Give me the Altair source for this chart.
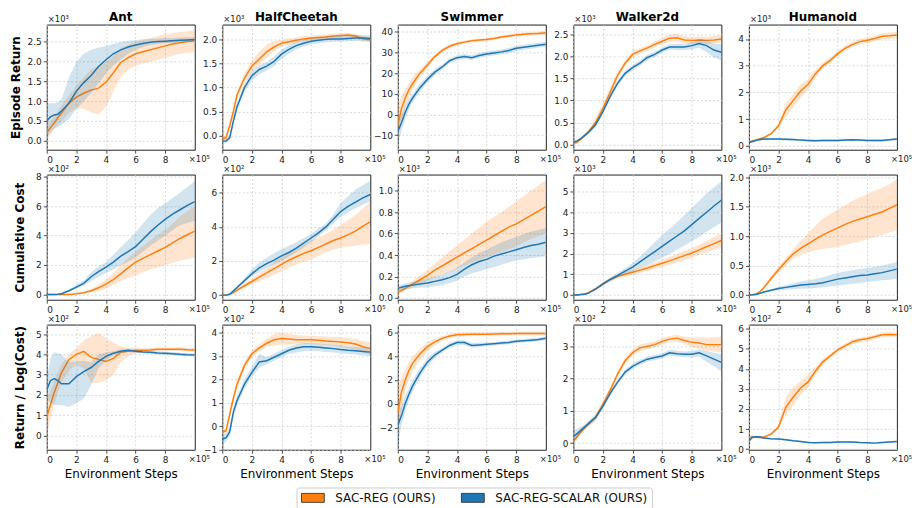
import altair as alt
import pandas as pd

# ---------------- data (x in units of 1e5 environment steps) ----------------
X = [0, 0.25, 0.5, 0.75, 1, 1.5, 2, 2.5, 3, 3.5, 4, 4.5, 5, 5.5, 6, 6.5, 7, 7.5, 8, 8.5, 9, 9.5, 10]

SERIES = ["SAC-REG (OURS)", "SAC-REG-SCALAR (OURS)"]
COLORS = ["#ff7f0e", "#1f77b4"]
ENVS = ["Ant", "HalfCheetah", "Swimmer", "Walker2d", "Humanoid"]
ROWS = ["Episode Return", "Cumulative Cost", "Return / Log(Cost)"]

# ---- Episode Return ----
ant_ret_reg = [0.2, 0.33, 0.45, 0.58, 0.7, 0.95, 1.1, 1.2, 1.28, 1.33, 1.48, 1.72, 1.98, 2.1, 2.2, 2.25, 2.3, 2.35, 2.4, 2.45, 2.48, 2.51, 2.53]
ant_ret_reg_lo = [0.0, 0.15, 0.3, 0.4, 0.5, 0.7, 0.82, 0.8, 0.72, 0.66, 0.85, 1.25, 1.6, 1.8, 1.9, 1.95, 2.0, 2.05, 2.1, 2.15, 2.2, 2.22, 2.25]
ant_ret_reg_hi = [0.4, 0.5, 0.6, 0.75, 0.9, 1.15, 1.4, 1.6, 1.8, 1.9, 2.0, 2.15, 2.35, 2.42, 2.5, 2.55, 2.6, 2.65, 2.7, 2.72, 2.75, 2.77, 2.8]
ant_ret_sca = [0.5, 0.6, 0.65, 0.67, 0.75, 0.95, 1.25, 1.47, 1.65, 1.88, 2.05, 2.2, 2.3, 2.37, 2.42, 2.46, 2.49, 2.51, 2.52, 2.53, 2.54, 2.55, 2.56]
ant_ret_sca_lo = [0.1, 0.2, 0.3, 0.35, 0.4, 0.55, 0.8, 1.0, 1.2, 1.45, 1.7, 1.9, 2.05, 2.2, 2.3, 2.37, 2.42, 2.45, 2.47, 2.48, 2.49, 2.5, 2.5]
ant_ret_sca_hi = [0.95, 0.95, 0.95, 0.97, 1.05, 1.6, 2.0, 2.2, 2.3, 2.36, 2.4, 2.45, 2.5, 2.53, 2.55, 2.57, 2.58, 2.59, 2.6, 2.6, 2.61, 2.62, 2.62]

hc_ret_reg = [-0.07, -0.05, 0.2, 0.5, 0.85, 1.2, 1.45, 1.6, 1.75, 1.85, 1.93, 1.96, 1.99, 2.02, 2.04, 2.05, 2.06, 2.08, 2.09, 2.1, 2.08, 2.02, 2.0]
hc_ret_reg_lo = [-0.12, -0.1, 0.12, 0.42, 0.77, 1.1, 1.35, 1.48, 1.62, 1.76, 1.86, 1.9, 1.94, 1.97, 1.99, 2.0, 2.01, 2.03, 2.04, 2.05, 2.03, 1.96, 1.94]
hc_ret_reg_hi = [-0.02, 0.0, 0.28, 0.58, 0.93, 1.3, 1.57, 1.75, 1.9, 1.97, 2.0, 2.03, 2.05, 2.08, 2.09, 2.1, 2.11, 2.13, 2.14, 2.15, 2.13, 2.08, 2.06]
hc_ret_sca = [-0.12, -0.12, -0.05, 0.3, 0.6, 1.0, 1.25, 1.38, 1.45, 1.55, 1.7, 1.8, 1.88, 1.93, 1.97, 1.99, 2.01, 2.02, 2.02, 2.03, 2.04, 2.04, 2.03]
hc_ret_sca_lo = [-0.16, -0.16, -0.1, 0.23, 0.52, 0.92, 1.15, 1.28, 1.36, 1.45, 1.6, 1.71, 1.8, 1.86, 1.9, 1.93, 1.95, 1.96, 1.96, 1.97, 1.98, 1.98, 1.97]
hc_ret_sca_hi = [-0.08, -0.08, 0.0, 0.37, 0.68, 1.08, 1.35, 1.47, 1.54, 1.65, 1.8, 1.89, 1.96, 2.0, 2.04, 2.05, 2.07, 2.08, 2.08, 2.09, 2.1, 2.1, 2.09]

sw_ret_reg = [-5, 3, 8, 12, 15, 20, 24, 28, 31, 33, 34.2, 35, 35.7, 36, 36.3, 36.8, 37.5, 38, 38.5, 38.8, 39, 39.2, 39.5]
sw_ret_reg_lo = [-12, -4, 3, 8, 12, 18, 22.5, 27, 30, 32, 33.4, 34.2, 35, 35.3, 35.6, 36, 36.8, 37.2, 37.7, 38, 38.2, 38.3, 38.5]
sw_ret_reg_hi = [4, 9, 12, 15, 18, 22, 25.5, 29, 32, 34, 35, 35.8, 36.4, 36.7, 37, 37.6, 38.2, 38.8, 39.3, 39.6, 39.8, 40.1, 40.5]
sw_ret_sca = [-8, -4, 1, 5, 8, 13, 17, 20.5, 23, 26, 27.5, 28, 27.5, 28.5, 29.3, 29.8, 30.3, 31, 32, 32.5, 33, 33.5, 34]
sw_ret_sca_lo = [-14, -8, -2, 2.5, 6, 11, 15.5, 19, 21.8, 24.8, 26.3, 26.8, 26.4, 27.3, 28.1, 28.6, 29.1, 29.8, 30.8, 31.3, 31.8, 32.3, 32.8]
sw_ret_sca_hi = [-3, 0, 4, 7.5, 10, 15, 18.5, 22, 24.2, 27.2, 28.7, 29.3, 28.7, 29.7, 30.5, 31, 31.5, 32.2, 33.2, 33.7, 34.2, 34.7, 35.2]

wk_ret_reg = [0.02, 0.05, 0.12, 0.2, 0.28, 0.5, 0.82, 1.2, 1.58, 1.85, 2.05, 2.13, 2.2, 2.28, 2.35, 2.42, 2.43, 2.38, 2.37, 2.38, 2.37, 2.38, 2.4]
wk_ret_reg_lo = [0.0, 0.03, 0.09, 0.16, 0.24, 0.4, 0.7, 1.1, 1.5, 1.78, 1.98, 2.07, 2.14, 2.21, 2.28, 2.34, 2.34, 2.3, 2.29, 2.3, 2.29, 2.3, 2.32]
wk_ret_reg_hi = [0.04, 0.07, 0.15, 0.24, 0.32, 0.6, 0.94, 1.3, 1.66, 1.92, 2.12, 2.19, 2.26, 2.35, 2.42, 2.5, 2.52, 2.46, 2.45, 2.46, 2.45, 2.47, 2.5]
wk_ret_sca = [0.05, 0.08, 0.13, 0.2, 0.27, 0.45, 0.75, 1.1, 1.4, 1.62, 1.75, 1.85, 1.98, 2.05, 2.15, 2.22, 2.22, 2.22, 2.25, 2.3, 2.25, 2.15, 2.1]
wk_ret_sca_lo = [0.03, 0.06, 0.11, 0.17, 0.24, 0.41, 0.7, 1.05, 1.35, 1.56, 1.69, 1.79, 1.92, 1.99, 2.09, 2.16, 2.15, 2.15, 2.17, 2.2, 2.1, 1.98, 1.92]
wk_ret_sca_hi = [0.07, 0.1, 0.15, 0.23, 0.3, 0.49, 0.8, 1.15, 1.45, 1.68, 1.81, 1.91, 2.04, 2.11, 2.21, 2.28, 2.29, 2.29, 2.33, 2.4, 2.38, 2.3, 2.28]

hu_ret_reg = [0.15, 0.18, 0.22, 0.26, 0.3, 0.45, 0.75, 1.35, 1.7, 2.05, 2.3, 2.7, 3.0, 3.2, 3.45, 3.65, 3.8, 3.9, 3.95, 4.02, 4.1, 4.12, 4.15]
hu_ret_reg_lo = [0.11, 0.14, 0.18, 0.22, 0.26, 0.4, 0.68, 1.1, 1.45, 1.8, 2.1, 2.55, 2.88, 3.1, 3.35, 3.55, 3.7, 3.8, 3.85, 3.92, 3.99, 4.0, 4.03]
hu_ret_reg_hi = [0.19, 0.22, 0.26, 0.3, 0.34, 0.5, 0.82, 1.6, 1.95, 2.3, 2.5, 2.85, 3.12, 3.3, 3.55, 3.75, 3.9, 4.0, 4.05, 4.12, 4.21, 4.24, 4.27]
hu_ret_sca = [0.12, 0.16, 0.2, 0.23, 0.25, 0.25, 0.25, 0.24, 0.23, 0.21, 0.2, 0.19, 0.2, 0.2, 0.2, 0.21, 0.22, 0.21, 0.2, 0.2, 0.2, 0.22, 0.25]
hu_ret_sca_lo = [0.08, 0.12, 0.16, 0.19, 0.21, 0.21, 0.21, 0.2, 0.19, 0.17, 0.16, 0.15, 0.16, 0.16, 0.16, 0.17, 0.18, 0.17, 0.16, 0.16, 0.16, 0.18, 0.21]
hu_ret_sca_hi = [0.16, 0.2, 0.24, 0.27, 0.29, 0.29, 0.29, 0.28, 0.27, 0.25, 0.24, 0.23, 0.24, 0.24, 0.24, 0.25, 0.26, 0.25, 0.24, 0.24, 0.24, 0.26, 0.29]

# ---- Cumulative Cost ----
ant_cost_reg = [0, 0, 0, 0, 0, 0, 0.05, 0.12, 0.25, 0.45, 0.7, 1.0, 1.4, 1.8, 2.2, 2.45, 2.7, 2.95, 3.2, 3.5, 3.8, 4.05, 4.3]
ant_cost_reg_lo = [0, 0, 0, 0, 0, 0, 0.02, 0.06, 0.15, 0.25, 0.4, 0.65, 0.9, 1.1, 1.3, 1.5, 1.7, 1.85, 2.0, 2.15, 2.3, 2.4, 2.5]
ant_cost_reg_hi = [0, 0, 0, 0, 0, 0.02, 0.08, 0.2, 0.38, 0.65, 1.0, 1.45, 2.0, 2.45, 2.9, 3.3, 3.7, 4.05, 4.4, 4.8, 5.3, 5.65, 6.0]
ant_cost_sca = [0, 0, 0, 0.02, 0.05, 0.25, 0.5, 0.75, 1.2, 1.55, 1.85, 2.2, 2.6, 2.9, 3.25, 3.75, 4.25, 4.7, 5.1, 5.45, 5.75, 6.05, 6.3]
ant_cost_sca_lo = [0, 0, 0, 0.01, 0.03, 0.18, 0.38, 0.6, 0.9, 1.2, 1.45, 1.7, 2.0, 2.2, 2.5, 2.9, 3.3, 3.65, 4.0, 4.35, 4.7, 4.85, 5.0]
ant_cost_sca_hi = [0, 0, 0, 0.03, 0.07, 0.32, 0.65, 0.95, 1.5, 1.9, 2.2, 2.7, 3.2, 3.7, 4.2, 4.8, 5.4, 5.85, 6.2, 6.55, 6.9, 7.3, 7.7]

hc_cost_reg = [0, 0, 0.05, 0.15, 0.3, 0.55, 0.8, 1.05, 1.3, 1.55, 1.8, 2.05, 2.25, 2.45, 2.6, 2.8, 3.0, 3.2, 3.35, 3.55, 3.75, 4.05, 4.3]
hc_cost_reg_lo = [0, 0, 0.03, 0.1, 0.22, 0.42, 0.65, 0.82, 1.0, 1.2, 1.4, 1.6, 1.8, 1.95, 2.1, 2.3, 2.5, 2.65, 2.8, 2.85, 2.9, 2.95, 3.0]
hc_cost_reg_hi = [0, 0, 0.07, 0.2, 0.38, 0.68, 1.0, 1.3, 1.6, 1.9, 2.2, 2.45, 2.7, 2.95, 3.2, 3.4, 3.6, 3.85, 4.1, 4.4, 4.7, 5.1, 5.5]
hc_cost_sca = [0, 0, 0.05, 0.25, 0.45, 0.85, 1.25, 1.6, 1.85, 2.05, 2.3, 2.5, 2.75, 3.05, 3.35, 3.65, 4.0, 4.45, 4.9, 5.2, 5.45, 5.7, 5.9]
hc_cost_sca_lo = [0, 0, 0.03, 0.2, 0.38, 0.72, 1.1, 1.35, 1.6, 1.8, 2.0, 2.25, 2.5, 2.8, 3.1, 3.45, 3.8, 4.2, 4.6, 4.85, 5.1, 5.3, 5.5]
hc_cost_sca_hi = [0, 0, 0.07, 0.3, 0.52, 0.98, 1.5, 1.9, 2.2, 2.45, 2.7, 2.9, 3.1, 3.35, 3.6, 3.9, 4.2, 4.75, 5.4, 5.8, 6.2, 6.45, 6.7]

sw_cost_reg = [0.055, 0.07, 0.09, 0.11, 0.13, 0.17, 0.21, 0.26, 0.3, 0.34, 0.38, 0.42, 0.46, 0.5, 0.54, 0.58, 0.62, 0.66, 0.69, 0.73, 0.77, 0.81, 0.85]
sw_cost_reg_lo = [0.03, 0.05, 0.07, 0.085, 0.1, 0.13, 0.16, 0.19, 0.22, 0.245, 0.27, 0.3, 0.33, 0.355, 0.38, 0.405, 0.43, 0.455, 0.48, 0.515, 0.55, 0.575, 0.6]
sw_cost_reg_hi = [0.08, 0.09, 0.11, 0.135, 0.16, 0.21, 0.26, 0.32, 0.38, 0.435, 0.49, 0.545, 0.6, 0.655, 0.71, 0.755, 0.8, 0.85, 0.9, 0.95, 1.0, 1.05, 1.1]
sw_cost_sca = [0.09, 0.1, 0.11, 0.115, 0.12, 0.13, 0.14, 0.155, 0.17, 0.19, 0.22, 0.27, 0.31, 0.34, 0.36, 0.39, 0.41, 0.43, 0.45, 0.47, 0.49, 0.5, 0.52]
sw_cost_sca_lo = [0.07, 0.075, 0.08, 0.085, 0.09, 0.095, 0.1, 0.11, 0.12, 0.14, 0.16, 0.2, 0.23, 0.25, 0.27, 0.29, 0.31, 0.33, 0.35, 0.36, 0.37, 0.38, 0.39]
sw_cost_sca_hi = [0.12, 0.125, 0.135, 0.14, 0.15, 0.165, 0.18, 0.2, 0.22, 0.25, 0.28, 0.33, 0.38, 0.42, 0.45, 0.485, 0.52, 0.545, 0.57, 0.595, 0.62, 0.635, 0.65]

wk_cost_reg = [0, 0, 0.02, 0.05, 0.1, 0.3, 0.55, 0.75, 0.9, 1.0, 1.1, 1.2, 1.3, 1.42, 1.53, 1.65, 1.78, 1.9, 2.03, 2.18, 2.33, 2.48, 2.63]
wk_cost_reg_lo = [0, 0, 0.01, 0.04, 0.08, 0.26, 0.47, 0.66, 0.8, 0.88, 0.97, 1.06, 1.15, 1.25, 1.35, 1.46, 1.57, 1.68, 1.8, 1.93, 2.06, 2.18, 2.3]
wk_cost_reg_hi = [0, 0, 0.03, 0.07, 0.12, 0.34, 0.63, 0.84, 1.0, 1.11, 1.22, 1.34, 1.45, 1.58, 1.7, 1.83, 1.98, 2.12, 2.27, 2.44, 2.62, 2.8, 2.98]
wk_cost_sca = [0, 0, 0.02, 0.04, 0.08, 0.28, 0.52, 0.75, 0.95, 1.15, 1.35, 1.6, 1.85, 2.1, 2.35, 2.6, 2.85, 3.1, 3.4, 3.7, 4.0, 4.3, 4.58]
wk_cost_sca_lo = [0, 0, 0.01, 0.03, 0.06, 0.24, 0.45, 0.65, 0.85, 1.0, 1.15, 1.3, 1.45, 1.62, 1.8, 1.98, 2.18, 2.38, 2.6, 2.8, 3.05, 3.27, 3.5]
wk_cost_sca_hi = [0, 0, 0.03, 0.05, 0.1, 0.32, 0.6, 0.85, 1.08, 1.3, 1.55, 1.85, 2.2, 2.55, 2.9, 3.2, 3.5, 3.85, 4.2, 4.55, 4.9, 5.2, 5.5]

hu_cost_reg = [0, 0.005, 0.02, 0.06, 0.12, 0.28, 0.43, 0.57, 0.7, 0.79, 0.87, 0.95, 1.02, 1.08, 1.14, 1.2, 1.25, 1.29, 1.33, 1.37, 1.41, 1.47, 1.53]
hu_cost_reg_lo = [0, 0.003, 0.015, 0.05, 0.1, 0.24, 0.38, 0.5, 0.62, 0.68, 0.73, 0.76, 0.78, 0.8, 0.82, 0.85, 0.88, 0.91, 0.95, 0.98, 1.02, 1.06, 1.1]
hu_cost_reg_hi = [0, 0.008, 0.025, 0.07, 0.14, 0.32, 0.48, 0.63, 0.78, 0.92, 1.05, 1.18, 1.3, 1.38, 1.45, 1.53, 1.6, 1.66, 1.72, 1.77, 1.82, 1.88, 1.97]
hu_cost_sca = [0, 0.003, 0.01, 0.03, 0.05, 0.08, 0.11, 0.13, 0.15, 0.17, 0.18, 0.19, 0.21, 0.24, 0.27, 0.29, 0.31, 0.33, 0.34, 0.36, 0.38, 0.41, 0.44]
hu_cost_sca_lo = [0, 0.002, 0.007, 0.02, 0.04, 0.06, 0.08, 0.09, 0.1, 0.105, 0.11, 0.12, 0.13, 0.145, 0.16, 0.175, 0.19, 0.2, 0.22, 0.235, 0.25, 0.26, 0.27]
hu_cost_sca_hi = [0, 0.005, 0.015, 0.04, 0.06, 0.1, 0.14, 0.17, 0.2, 0.23, 0.25, 0.27, 0.3, 0.34, 0.38, 0.4, 0.42, 0.44, 0.46, 0.48, 0.5, 0.53, 0.56]

# ---- Return / Log(Cost) ----
ant_rat_reg = [0.9, 1.5, 2.1, 2.6, 3.1, 3.75, 4.0, 4.15, 3.85, 3.75, 3.65, 3.8, 4.1, 4.15, 4.2, 4.2, 4.22, 4.25, 4.25, 4.25, 4.25, 4.23, 4.22]
ant_rat_reg_lo = [0.0, 0.8, 1.5, 2.1, 2.6, 3.2, 3.5, 3.3, 2.6, 2.6, 2.7, 3.0, 3.6, 3.9, 4.05, 4.1, 4.13, 4.16, 4.16, 4.16, 4.16, 4.14, 4.13]
ant_rat_reg_hi = [1.7, 2.2, 2.7, 3.1, 3.5, 4.0, 4.3, 4.7, 4.9, 5.05, 4.8, 4.6, 4.4, 4.3, 4.35, 4.3, 4.31, 4.34, 4.34, 4.34, 4.34, 4.32, 4.31]
ant_rat_sca = [2.25, 2.7, 2.8, 2.7, 2.55, 2.55, 2.9, 3.15, 3.35, 3.65, 3.9, 4.05, 4.15, 4.2, 4.15, 4.12, 4.1, 4.07, 4.05, 4.03, 4.0, 3.98, 3.97]
ant_rat_sca_lo = [1.8, 1.6, 1.5, 1.5, 1.5, 1.4, 1.6, 1.8, 2.5, 3.3, 3.7, 3.95, 4.05, 4.12, 4.07, 4.04, 4.02, 3.99, 3.97, 3.95, 3.92, 3.9, 3.89]
ant_rat_sca_hi = [2.8, 3.8, 4.1, 4.05, 4.0, 3.6, 3.65, 3.7, 3.6, 4.0, 4.1, 4.15, 4.25, 4.28, 4.23, 4.2, 4.18, 4.15, 4.13, 4.11, 4.08, 4.06, 4.05]

hc_rat_reg = [-0.25, -0.2, 0.5, 1.2, 1.8, 2.6, 3.1, 3.35, 3.55, 3.7, 3.75, 3.73, 3.7, 3.7, 3.7, 3.68, 3.65, 3.63, 3.6, 3.57, 3.52, 3.4, 3.33]
hc_rat_reg_lo = [-0.35, -0.3, 0.35, 1.0, 1.6, 2.45, 2.95, 3.2, 3.4, 3.45, 3.5, 3.5, 3.5, 3.52, 3.52, 3.5, 3.47, 3.45, 3.4, 3.35, 3.28, 3.15, 3.05]
hc_rat_reg_hi = [-0.15, -0.1, 0.65, 1.4, 2.0, 2.75, 3.25, 3.5, 3.75, 3.95, 4.0, 3.95, 3.9, 3.88, 3.87, 3.86, 3.84, 3.82, 3.8, 3.78, 3.74, 3.65, 3.6]
hc_rat_sca = [-0.55, -0.5, -0.25, 0.6, 1.1, 1.8, 2.3, 2.75, 2.8, 2.95, 3.1, 3.25, 3.35, 3.4, 3.4, 3.38, 3.35, 3.32, 3.28, 3.25, 3.23, 3.2, 3.17]
hc_rat_sca_lo = [-0.75, -0.7, -0.4, 0.4, 0.9, 1.6, 2.1, 2.5, 2.65, 2.8, 2.95, 3.1, 3.15, 3.22, 3.23, 3.21, 3.18, 3.15, 3.12, 3.1, 3.07, 3.03, 3.0]
hc_rat_sca_hi = [-0.35, -0.3, -0.1, 0.8, 1.3, 2.0, 2.55, 3.1, 2.95, 3.1, 3.25, 3.4, 3.5, 3.55, 3.56, 3.54, 3.52, 3.49, 3.45, 3.41, 3.39, 3.37, 3.35]

sw_rat_reg = [-0.8, 1.0, 2.0, 2.8, 3.4, 4.2, 4.8, 5.2, 5.5, 5.7, 5.8, 5.83, 5.85, 5.85, 5.85, 5.86, 5.88, 5.88, 5.9, 5.9, 5.9, 5.9, 5.9]
sw_rat_reg_lo = [-2.5, -0.5, 1.0, 2.0, 2.7, 3.7, 4.4, 4.95, 5.3, 5.52, 5.63, 5.67, 5.7, 5.7, 5.7, 5.71, 5.73, 5.73, 5.75, 5.75, 5.75, 5.75, 5.75]
sw_rat_reg_hi = [1.5, 2.2, 2.9, 3.5, 4.0, 4.6, 5.2, 5.45, 5.7, 5.88, 5.97, 6.0, 6.0, 6.0, 6.0, 6.01, 6.03, 6.03, 6.05, 6.05, 6.05, 6.05, 6.05]
sw_rat_sca = [-1.8, -1.0, 0.0, 0.8, 1.5, 2.6, 3.5, 4.1, 4.5, 4.9, 5.15, 5.15, 4.9, 4.95, 5.0, 5.05, 5.1, 5.15, 5.25, 5.3, 5.35, 5.4, 5.5]
sw_rat_sca_lo = [-3.5, -1.8, -0.7, 0.3, 1.0, 2.2, 3.2, 3.85, 4.3, 4.7, 4.95, 4.95, 4.7, 4.78, 4.85, 4.9, 4.95, 5.0, 5.1, 5.15, 5.2, 5.25, 5.35]
sw_rat_sca_hi = [-0.5, -0.2, 0.7, 1.3, 2.0, 3.0, 3.8, 4.35, 4.7, 5.1, 5.35, 5.35, 5.1, 5.12, 5.15, 5.2, 5.25, 5.3, 5.4, 5.45, 5.5, 5.55, 5.65]

wk_rat_reg = [0.05, 0.2, 0.35, 0.47, 0.58, 0.8, 1.2, 1.65, 2.15, 2.55, 2.8, 2.95, 3.0, 3.05, 3.15, 3.22, 3.25, 3.18, 3.12, 3.1, 3.05, 3.05, 3.05]
wk_rat_reg_lo = [0.0, 0.13, 0.27, 0.4, 0.5, 0.68, 1.07, 1.55, 2.05, 2.45, 2.7, 2.85, 2.9, 2.95, 3.05, 3.12, 3.15, 3.06, 2.98, 2.92, 2.86, 2.84, 2.82]
wk_rat_reg_hi = [0.1, 0.27, 0.43, 0.54, 0.66, 0.92, 1.33, 1.75, 2.25, 2.65, 2.9, 3.05, 3.1, 3.15, 3.25, 3.32, 3.35, 3.3, 3.26, 3.28, 3.26, 3.28, 3.3]
wk_rat_sca = [0.2, 0.3, 0.4, 0.5, 0.6, 0.8, 1.15, 1.55, 1.9, 2.2, 2.38, 2.5, 2.6, 2.65, 2.7, 2.8, 2.77, 2.75, 2.75, 2.8, 2.7, 2.6, 2.5]
wk_rat_sca_lo = [0.05, 0.17, 0.3, 0.42, 0.53, 0.73, 1.08, 1.48, 1.83, 2.12, 2.3, 2.42, 2.52, 2.57, 2.62, 2.71, 2.68, 2.66, 2.65, 2.68, 2.52, 2.38, 2.22]
wk_rat_sca_hi = [0.4, 0.45, 0.52, 0.58, 0.67, 0.87, 1.22, 1.62, 1.97, 2.28, 2.46, 2.58, 2.68, 2.73, 2.78, 2.89, 2.86, 2.84, 2.85, 2.9, 2.85, 2.8, 2.75]

hu_rat_reg = [0.6, 0.6, 0.6, 0.58, 0.6, 0.75, 1.1, 2.1, 2.6, 3.05, 3.35, 3.9, 4.35, 4.65, 4.95, 5.15, 5.35, 5.45, 5.5, 5.6, 5.7, 5.72, 5.7]
hu_rat_reg_lo = [0.52, 0.52, 0.53, 0.52, 0.54, 0.68, 1.0, 1.7, 2.2, 2.7, 3.1, 3.7, 4.2, 4.52, 4.83, 5.03, 5.23, 5.33, 5.38, 5.48, 5.58, 5.6, 5.58]
hu_rat_reg_hi = [0.68, 0.68, 0.67, 0.64, 0.66, 0.82, 1.2, 2.6, 3.1, 3.4, 3.7, 4.1, 4.5, 4.78, 5.07, 5.27, 5.47, 5.57, 5.62, 5.72, 5.82, 5.84, 5.82]
hu_rat_sca = [0.4, 0.6, 0.62, 0.6, 0.55, 0.52, 0.5, 0.47, 0.42, 0.38, 0.33, 0.32, 0.33, 0.33, 0.35, 0.36, 0.35, 0.33, 0.32, 0.3, 0.33, 0.36, 0.38]
hu_rat_sca_lo = [0.3, 0.54, 0.57, 0.55, 0.51, 0.48, 0.46, 0.43, 0.38, 0.34, 0.29, 0.28, 0.29, 0.29, 0.31, 0.32, 0.31, 0.29, 0.28, 0.26, 0.29, 0.32, 0.34]
hu_rat_sca_hi = [0.5, 0.66, 0.67, 0.65, 0.59, 0.56, 0.54, 0.51, 0.46, 0.42, 0.37, 0.36, 0.37, 0.37, 0.39, 0.4, 0.39, 0.37, 0.36, 0.34, 0.37, 0.4, 0.42]

# panel series, row by row
PANEL_DATA = [
    [(ant_ret_reg, ant_ret_reg_lo, ant_ret_reg_hi, ant_ret_sca, ant_ret_sca_lo, ant_ret_sca_hi),
     (hc_ret_reg, hc_ret_reg_lo, hc_ret_reg_hi, hc_ret_sca, hc_ret_sca_lo, hc_ret_sca_hi),
     (sw_ret_reg, sw_ret_reg_lo, sw_ret_reg_hi, sw_ret_sca, sw_ret_sca_lo, sw_ret_sca_hi),
     (wk_ret_reg, wk_ret_reg_lo, wk_ret_reg_hi, wk_ret_sca, wk_ret_sca_lo, wk_ret_sca_hi),
     (hu_ret_reg, hu_ret_reg_lo, hu_ret_reg_hi, hu_ret_sca, hu_ret_sca_lo, hu_ret_sca_hi)],
    [(ant_cost_reg, ant_cost_reg_lo, ant_cost_reg_hi, ant_cost_sca, ant_cost_sca_lo, ant_cost_sca_hi),
     (hc_cost_reg, hc_cost_reg_lo, hc_cost_reg_hi, hc_cost_sca, hc_cost_sca_lo, hc_cost_sca_hi),
     (sw_cost_reg, sw_cost_reg_lo, sw_cost_reg_hi, sw_cost_sca, sw_cost_sca_lo, sw_cost_sca_hi),
     (wk_cost_reg, wk_cost_reg_lo, wk_cost_reg_hi, wk_cost_sca, wk_cost_sca_lo, wk_cost_sca_hi),
     (hu_cost_reg, hu_cost_reg_lo, hu_cost_reg_hi, hu_cost_sca, hu_cost_sca_lo, hu_cost_sca_hi)],
    [(ant_rat_reg, ant_rat_reg_lo, ant_rat_reg_hi, ant_rat_sca, ant_rat_sca_lo, ant_rat_sca_hi),
     (hc_rat_reg, hc_rat_reg_lo, hc_rat_reg_hi, hc_rat_sca, hc_rat_sca_lo, hc_rat_sca_hi),
     (sw_rat_reg, sw_rat_reg_lo, sw_rat_reg_hi, sw_rat_sca, sw_rat_sca_lo, sw_rat_sca_hi),
     (wk_rat_reg, wk_rat_reg_lo, wk_rat_reg_hi, wk_rat_sca, wk_rat_sca_lo, wk_rat_sca_hi),
     (hu_rat_reg, hu_rat_reg_lo, hu_rat_reg_hi, hu_rat_sca, hu_rat_sca_lo, hu_rat_sca_hi)],
]

# axis set-up per panel: y domain, tick values, tick format, multiplier label
Y_DOMAINS = [
    [[-0.23, 2.94], [-0.30, 2.32], [-17, 43.5], [-0.12, 2.73], [-0.15, 4.54]],
    [[-0.36, 8.14], [-0.27, 7.07], [-0.016, 1.15], [-0.23, 5.82], [-0.08, 2.045]],
    [[-0.71, 5.47], [-1.01, 4.35], [-3.87, 6.66], [-0.2, 3.67], [-0.03, 6.21]],
]
Y_TICKS = [
    [[0, 0.5, 1, 1.5, 2, 2.5], [0, 0.5, 1, 1.5, 2], [-10, 0, 10, 20, 30, 40], [0, 0.5, 1, 1.5, 2, 2.5], [0, 1, 2, 3, 4]],
    [[0, 2, 4, 6, 8], [0, 2, 4, 6], [0, 0.2, 0.4, 0.6, 0.8, 1.0], [0, 1, 2, 3, 4, 5], [0, 0.5, 1, 1.5, 2]],
    [[0, 1, 2, 3, 4, 5], [-1, 0, 1, 2, 3, 4], [-2, 0, 2, 4, 6], [0, 1, 2, 3], [0, 1, 2, 3, 4, 5, 6]],
]
Y_FMT = [
    [".1f", ".1f", "d", ".1f", "d"],
    ["d", "d", ".1f", "d", ".1f"],
    ["d", "d", "d", "d", "d"],
]
Y_MULT = [
    ["×10³", "×10³", "", "×10³", "×10³"],
    ["×10²", "×10²", "×10³", "×10³", "×10³"],
    ["×10²", "×10²", "", "×10²", "×10²"],
]
X_TICKS = [0, 2, 4, 6, 8]

W, H = 149, 126

color_scale = alt.Scale(domain=SERIES, range=COLORS)


def make_panel(r, c):
    arrs = PANEL_DATA[r][c]
    rows = []
    for si, s in enumerate(SERIES):
        m, lo, hi = arrs[3 * si], arrs[3 * si + 1], arrs[3 * si + 2]
        for i, xv in enumerate(X):
            rows.append({"x": xv, "series": s, "mean": m[i], "lo": lo[i], "hi": hi[i]})
    df = pd.DataFrame(rows)

    xenc = alt.X("x:Q", scale=alt.Scale(domain=[0, 10], nice=False, zero=False),
                 axis=alt.Axis(values=X_TICKS, format="d",
                               title="Environment Steps" if r == 2 else None))
    yscale = alt.Scale(domain=Y_DOMAINS[r][c], nice=False, zero=False)
    yaxis = alt.Axis(values=Y_TICKS[r][c], format=Y_FMT[r][c],
                     title=ROWS[r] if c == 0 else None,
                     minExtent=15 if c == 0 else 10)
    col = alt.Color("series:N", scale=color_scale, legend=None)

    base = alt.Chart(df)
    layers = []
    for s in SERIES:
        sub = base.transform_filter(alt.datum.series == s)
        layers.append(sub.mark_area(opacity=0.2, clip=True).encode(
            x=xenc, y=alt.Y("lo:Q", scale=yscale, axis=yaxis), y2="hi:Q", color=col))
        layers.append(sub.mark_line(strokeWidth=1.5, clip=True).encode(
            x=xenc, y=alt.Y("mean:Q", scale=yscale, axis=yaxis), color=col))

    # x-multiplier text at the lower right
    layers.append(alt.Chart(pd.DataFrame({"t": ["×10⁵"]})).mark_text(
        align="left", baseline="alphabetic", fontSize=8.5, color="#222", font="DejaVu Sans"
    ).encode(text="t:N", x=alt.value(W - 6), y=alt.value(H + 12.5)))
    # y-multiplier text at the upper left (transparent placeholder where the panel has none,
    # so that every column title sits at the same height)
    mult = Y_MULT[r][c]
    layers.append(alt.Chart(pd.DataFrame({"t": [mult if mult else "×10³"]})).mark_text(
        align="left", baseline="alphabetic", fontSize=8.5, color="#222", font="DejaVu Sans",
        opacity=1 if mult else 0
    ).encode(text="t:N", x=alt.value(1), y=alt.value(-3)))

    if r == 2 and c == 2:
        legend = alt.Legend(
            orient="none", legendX=-102, legendY=164, direction="horizontal", title=None,
            symbolType="M-1,-0.9H3.6V0.9H-1Z", symbolSize=100, symbolOpacity=1,
            symbolStrokeColor="#222", symbolStrokeWidth=0.8,
            labelFontSize=12, labelFont="DejaVu Sans", labelColor="#111",
            labelOffset=23, columnPadding=23, padding=4,
            strokeColor="#cccccc", cornerRadius=3, fillColor="white",
        )
        layers.append(alt.Chart(pd.DataFrame({"series": SERIES})).mark_square(
            opacity=0, stroke="#222", strokeWidth=0.8
        ).encode(fill=alt.Fill("series:N", scale=color_scale, legend=legend)))

    props = dict(width=W, height=H)
    if r == 0:
        props["title"] = alt.TitleParams(ENVS[c], anchor="middle")
    return alt.layer(*layers).properties(**props)


panels = [make_panel(r, c) for r in range(3) for c in range(5)]

chart = alt.ConcatChart(
    concat=panels, columns=5, spacing={"row": 25, "column": 27.7}, bounds="flush"
).resolve_scale(fill="independent").properties(
    padding={"left": 0, "top": 0, "right": 0, "bottom": 0}
).configure(
    font="DejaVu Sans"
).configure_view(
    stroke="#222", strokeWidth=1
).configure_axis(
    domain=False, ticks=True, tickColor="#222", tickSize=3.5, tickWidth=0.8,
    labelFontSize=9, labelColor="#222", labelFont="DejaVu Sans", labelPadding=2,
    grid=True, gridColor="#cfcfcf", gridDash=[2, 2], gridWidth=0.8,
    titleFont="DejaVu Sans", titleColor="black", titleFontSize=12,
).configure_axisX(
    titleFontWeight="normal", titlePadding=4
).configure_axisY(
    titleFontWeight="bold", titlePadding=5
).configure_title(
    font="DejaVu Sans", fontSize=12, fontWeight="bold", offset=-9, color="black"
)

chart.save("out.html", embed_options={"renderer": "svg", "actions": False})
